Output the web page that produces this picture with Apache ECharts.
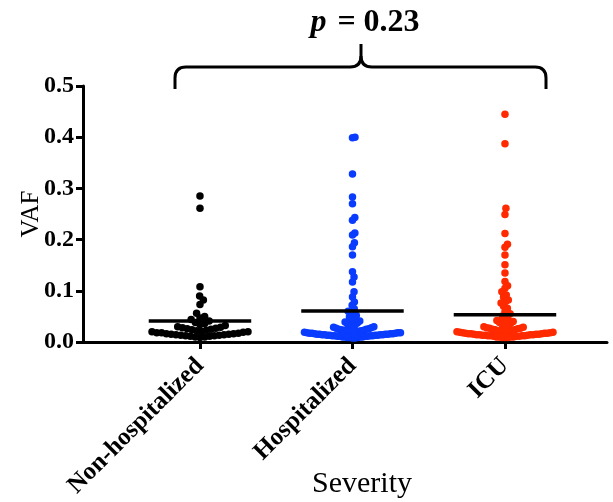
<!DOCTYPE html>
<html>
<head>
<meta charset="utf-8">
<script src="https://cdn.jsdelivr.net/npm/echarts@6/dist/echarts.min.js"></script>
<style>html,body{margin:0;padding:0;background:#fff;}#c{width:613px;height:502px;}</style>
</head>
<body>
<div id="c"></div>
<script>
const categories = ['Non-hospitalized', 'Hospitalized', 'ICU'];
const colors = ['#000000', '#0a3cff', '#ff2a00'];

const nonHospitalized = [0.285, 0.261, 0.108, 0.090, 0.082, 0.073, 0.056, 0.050, 0.047, 0.044, 0.041, 0.038, 0.036,
  0.034, 0.032, 0.030, 0.029, 0.028, 0.027, 0.026, 0.025, 0.024, 0.023,
  0.022, 0.021, 0.020, 0.020, 0.019, 0.018, 0.018, 0.017, 0.016, 0.016,
  0.015, 0.015, 0.014, 0.014, 0.013, 0.013, 0.012, 0.012, 0.011, 0.011,
  0.010, 0.010, 0.009];

const hospitalized = [0.400, 0.399, 0.328, 0.283, 0.270, 0.243, 0.238, 0.213, 0.209, 0.194, 0.186, 0.170,
  0.137, 0.127, 0.117, 0.098, 0.088, 0.078, 0.072,
  0.065, 0.060, 0.056, 0.052, 0.049, 0.046, 0.043, 0.041, 0.039, 0.037, 0.035, 0.033, 0.032, 0.031, 0.030,
  0.029, 0.028, 0.027, 0.026, 0.025, 0.025, 0.024, 0.023, 0.023, 0.022,
  0.022, 0.021, 0.021, 0.020, 0.020, 0.019, 0.019, 0.018, 0.018, 0.018,
  0.017, 0.017, 0.017, 0.016, 0.016, 0.016, 0.015, 0.015, 0.015, 0.015,
  0.014, 0.014, 0.014, 0.014, 0.013, 0.013, 0.013, 0.013, 0.012, 0.012,
  0.012, 0.012, 0.011, 0.011, 0.011, 0.011, 0.010, 0.010, 0.010, 0.010,
  0.009, 0.009, 0.009, 0.008, 0.008];

const icu = [0.445, 0.387, 0.261, 0.249, 0.212, 0.191, 0.185, 0.170, 0.151, 0.135, 0.118, 0.110,
  0.105, 0.098, 0.092, 0.088, 0.082, 0.079, 0.076, 0.070, 0.066, 0.059,
  0.055, 0.051, 0.048, 0.045, 0.042, 0.040, 0.038, 0.036, 0.034, 0.032, 0.031, 0.030,
  0.029, 0.028, 0.027, 0.027, 0.026, 0.025, 0.024, 0.024, 0.023, 0.022,
  0.022, 0.021, 0.020, 0.020, 0.020, 0.019, 0.019, 0.018, 0.018, 0.017,
  0.017, 0.017, 0.016, 0.016, 0.016, 0.015, 0.015, 0.015, 0.014, 0.014,
  0.014, 0.014, 0.013, 0.013, 0.013, 0.012, 0.012, 0.012, 0.012, 0.011,
  0.011, 0.011, 0.010, 0.010, 0.010, 0.010, 0.009, 0.009, 0.009];

const groups = [nonHospitalized, hospitalized, icu];
const means = [0.041, 0.0605, 0.053];
const yTickLabels = ['0.0', '0.1', '0.2', '0.3', '0.4', '0.5'];
const pValueLabel = '0.23';

const font = 'Liberation Serif, Times New Roman, serif';
const chart = echarts.init(document.getElementById('c'), null, { renderer: 'canvas' });

const br = { stroke: '#000', lineWidth: 3, fill: null };
const baseOption = {
  animation: false,
  backgroundColor: '#fff',
  grid: { left: 83, right: 6, top: 86, bottom: 160, containLabel: false, outerBoundsMode: 'none' },
  xAxis: {
    type: 'value', min: -0.767, max: 2.669,
    splitLine: { show: false },
    axisLine: { show: true, onZero: false, lineStyle: { color: '#000', width: 3 } },
    axisTick: { show: true, length: 7, lineStyle: { color: '#000', width: 3 }, customValues: [0, 1, 2] },
    axisLabel: {
      customValues: [0, 1, 2], rotate: 45, margin: 20,
      formatter: v => categories[Math.round(v)] || '',
      fontFamily: font, fontWeight: 'bold', fontSize: 25, color: '#000'
    },
    name: 'Severity', nameLocation: 'middle', nameGap: 127, nameMoveOverlap: false,
    nameTextStyle: { fontFamily: font, fontSize: 30, color: '#000', padding: [0, 0, 0, 34] }
  },
  yAxis: {
    type: 'value', min: 0, max: 0.5, interval: 0.1,
    splitLine: { show: false },
    axisLine: { show: true, onZero: false, lineStyle: { color: '#000', width: 3 } },
    axisTick: { show: true, length: 7, lineStyle: { color: '#000', width: 3 } },
    axisLabel: {
      margin: 9, formatter: v => yTickLabels[Math.round(v * 10)],
      fontFamily: font, fontWeight: 'bold', fontSize: 24, color: '#000'
    },
    name: 'VAF', nameLocation: 'middle', nameGap: 39, nameMoveOverlap: false,
    nameTextStyle: { fontFamily: font, fontSize: 25, color: '#000' }
  },
  graphic: [
    { type: 'line', shape: { x1: 175, y1: 89, x2: 175, y2: 78 }, style: br },
    { type: 'bezierCurve', shape: { x1: 175, y1: 78, cpx1: 175, cpy1: 67, x2: 186, y2: 67 }, style: br },
    { type: 'line', shape: { x1: 186, y1: 67, x2: 350, y2: 67 }, style: br },
    { type: 'bezierCurve', shape: { x1: 350, y1: 67, cpx1: 361, cpy1: 67, x2: 361, y2: 56 }, style: br },
    { type: 'line', shape: { x1: 361, y1: 56, x2: 361, y2: 44 }, style: br },
    { type: 'bezierCurve', shape: { x1: 361, y1: 56, cpx1: 361, cpy1: 67, x2: 372, y2: 67 }, style: br },
    { type: 'line', shape: { x1: 372, y1: 67, x2: 535, y2: 67 }, style: br },
    { type: 'bezierCurve', shape: { x1: 535, y1: 67, cpx1: 546, cpy1: 67, x2: 546, y2: 78 }, style: br },
    { type: 'line', shape: { x1: 546, y1: 78, x2: 546, y2: 89 }, style: br },
    {
      type: 'text', x: 365, y: 23,
      style: {
        text: '{i|p}{b| = ' + pValueLabel + '}',
        align: 'center', verticalAlign: 'middle',
        rich: {
          i: { fontFamily: font, fontSize: 32, fontWeight: 'bold', fontStyle: 'italic', fill: '#000', padding: [0, 3, 0, 0] },
          b: { fontFamily: font, fontSize: 32, fontWeight: 'bold', fill: '#000' }
        }
      }
    }
  ],
  series: []
};
chart.setOption(baseOption);

function swarm(yPix, d) {
  const idx = yPix.map((v, i) => i).sort((a, b) => yPix[b] - yPix[a]);
  const placed = [];
  const xs = new Array(yPix.length);
  for (const i of idx) {
    const y = yPix[i];
    const cands = [0];
    for (const p of placed) {
      const dy = y - p.y;
      if (Math.abs(dy) < d) {
        const dx = Math.sqrt(d * d - dy * dy);
        cands.push(p.x + dx, p.x - dx);
      }
    }
    cands.sort((a, b) => Math.abs(a) - Math.abs(b));
    let chosen = 0;
    for (const c of cands) {
      if (placed.every(p => (p.x - c) ** 2 + (p.y - y) ** 2 >= d * d - 1e-6)) { chosen = c; break; }
    }
    placed.push({ x: chosen, y });
    xs[i] = chosen;
  }
  return xs;
}

const pxPerX = chart.convertToPixel({ xAxisIndex: 0 }, 1) - chart.convertToPixel({ xAxisIndex: 0 }, 0);
const maxHalfPx = 48;
const series = [];
groups.forEach((vals, g) => {
  const yPix = vals.map(v => chart.convertToPixel({ yAxisIndex: 0 }, v));
  let xs = swarm(yPix, 6.5);
  const m = Math.max(...xs.map(Math.abs));
  if (m > maxHalfPx) xs = xs.map(x => x * maxHalfPx / m);
  series.push({
    type: 'scatter', name: categories[g], symbol: 'circle', symbolSize: 7.5,
    itemStyle: { color: colors[g], opacity: 1 },
    data: vals.map((v, i) => [g + xs[i] / pxPerX, v]),
    z: 2
  });
});
series.push({
  type: 'custom', name: 'mean', z: 5,
  data: means.map((m, g) => [g, m]),
  renderItem: (params, api) => {
    const a = api.coord([api.value(0) - 0.336, api.value(1)]);
    const b = api.coord([api.value(0) + 0.336, api.value(1)]);
    return { type: 'line', shape: { x1: a[0], y1: a[1], x2: b[0], y2: b[1] }, style: { stroke: '#000', lineWidth: 3.5 } };
  }
});
chart.setOption({ series });
</script>
</body>
</html>
